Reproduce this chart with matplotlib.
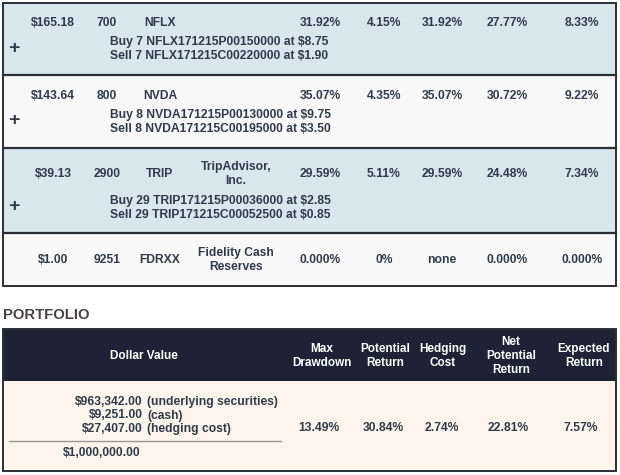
import matplotlib.pyplot as plt
from matplotlib.patches import Rectangle

# ---- data ----
prices = ["$165.18", "$143.64", "$39.13", "$1.00"]
shares = ["700", "800", "2900", "9251"]
symbols = ["NFLX", "NVDA", "TRIP", "FDRXX"]
names = [None, None, ("TripAdvisor,", "Inc."), ("Fidelity Cash", "Reserves")]
col_a = ["31.92%", "35.07%", "29.59%", "0.000%"]
col_b = ["4.15%", "4.35%", "5.11%", "0%"]
col_c = ["31.92%", "35.07%", "29.59%", "none"]
col_d = ["27.77%", "30.72%", "24.48%", "0.000%"]
col_e = ["8.33%", "9.22%", "7.34%", "0.000%"]
hedges = [("Buy 7 NFLX171215P00150000 at $8.75", "Sell 7 NFLX171215C00220000 at $1.90"),
          ("Buy 8 NVDA171215P00130000 at $9.75", "Sell 8 NVDA171215C00195000 at $3.50"),
          ("Buy 29 TRIP171215P00036000 at $2.85", "Sell 29 TRIP171215C00052500 at $0.85"),
          None]

port_head = ["Dollar Value", "Max\nDrawdown", "Potential\nReturn", "Hedging\nCost",
             "Net\nPotential\nReturn", "Expected\nReturn"]
port_amounts = ["$963,342.00", "$9,251.00", "$27,407.00"]
port_labels = ["(underlying securities)", "(cash)", "(hedging cost)"]
port_total = "$1,000,000.00"
port_vals = ["13.49%", "30.84%", "2.74%", "22.81%", "7.57%"]

# ---- layout ----
TXT = "#2f3b4c"
BORDER = "#2b2f36"
plt.rcParams['font.family'] = ['Liberation Sans', 'DejaVu Sans']
FS = 8.7

fig = plt.figure(figsize=(6.2, 4.75), dpi=100)
ax = fig.add_axes([0, 0, 1, 1])
ax.set_xlim(0, 620)
ax.set_ylim(475, 0)
ax.axis('off')

row_top = [3, 75, 148, 233, 286]
row_bg = ["#d8e6ee", "#f8f8f8", "#d8e6ee", "#f8f8f8"]
main_y = [23, 96, 174, 260]
left, right = 3, 616
pct_x = [320, 384, 442, 507, 582]

for i in range(4):
    ax.add_patch(Rectangle((left, row_top[i]), right - left, row_top[i+1] - row_top[i],
                           facecolor=row_bg[i], edgecolor='none', zorder=1))
    y = main_y[i]
    kw = dict(color=TXT, fontsize=FS, fontweight='bold', va='center', ha='center', zorder=3)
    ax.text(53, y, prices[i], **kw)
    ax.text(107, y, shares[i], **kw)
    ax.text(160, y, symbols[i], **kw)
    if names[i]:
        ax.text(236, y - 7, names[i][0], **kw)
        ax.text(236, y + 7, names[i][1], **kw)
    for x, col in zip(pct_x, [col_a, col_b, col_c, col_d, col_e]):
        ax.text(x, y, col[i], **kw)
    if hedges[i]:
        off = 27 if names[i] else 19
        ax.text(110, y + off, hedges[i][0], color=TXT, fontsize=FS, fontweight='bold',
                va='center', ha='left', zorder=3)
        ax.text(110, y + off + 14, hedges[i][1], color=TXT, fontsize=FS, fontweight='bold',
                va='center', ha='left', zorder=3)
        ax.text(14, y + off + 6, "+", color=TXT, fontsize=14, fontweight='bold',
                va='center', ha='center', zorder=3)

# row separators and outline
for yy in row_top[1:-1]:
    ax.plot([left, right], [yy, yy], color=BORDER, lw=1.6, zorder=4)
ax.add_patch(Rectangle((left, row_top[0]), right - left, row_top[-1] - row_top[0],
                       facecolor='none', edgecolor=BORDER, lw=1.4, zorder=5))

# ---- portfolio ----
ax.text(3, 315, "PORTFOLIO", color="#4b4340", fontsize=10.7, fontweight='bold',
        va='center', ha='left')

p_top, p_head_bot, p_bot = 329, 381, 471
ax.add_patch(Rectangle((left, p_top), right - left, p_head_bot - p_top,
                       facecolor="#1d2335", edgecolor='none', zorder=1))
ax.add_patch(Rectangle((left, p_head_bot), right - left, p_bot - p_head_bot,
                       facecolor="#fdf4ec", edgecolor='none', zorder=1))
ax.add_patch(Rectangle((left, p_top), right - left, p_bot - p_top,
                       facecolor='none', edgecolor=BORDER, lw=1.4, zorder=5))

head_x = [144, 322, 385, 443, 511, 584]
for x, h in zip(head_x, port_head):
    ax.text(x, 356, h, color='white', fontsize=8.5, fontweight='bold',
            va='center', ha='center', linespacing=1.2, zorder=3)

for j, (amt, lab) in enumerate(zip(port_amounts, port_labels)):
    yy = 402 + j * 13.5
    ax.text(143, yy, amt, color=TXT, fontsize=FS, fontweight='bold', va='center', ha='right')
    ax.text(147, yy, lab, color=TXT, fontsize=FS, fontweight='bold', va='center', ha='left')
ax.plot([9, 281], [441, 441], color="#9a9a9a", lw=1, zorder=3)
ax.text(141, 453, port_total, color=TXT, fontsize=FS, fontweight='bold', va='center', ha='right')

val_x = [319, 383, 442, 508, 581]
for x, v in zip(val_x, port_vals):
    ax.text(x, 428, v, color=TXT, fontsize=FS, fontweight='bold', va='center', ha='center')

fig.savefig("out.png", dpi=100)
